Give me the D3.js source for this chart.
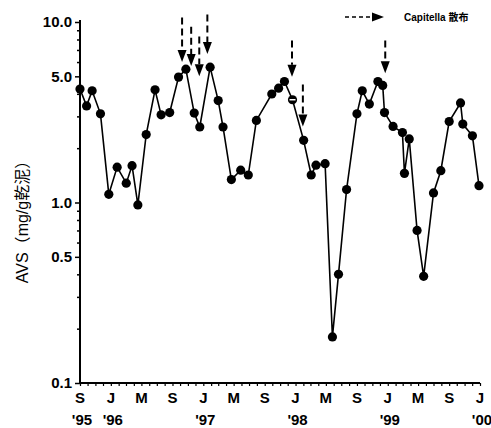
<!DOCTYPE html>
<html>
<head>
<meta charset="utf-8">
<script src="https://cdn.jsdelivr.net/npm/d3@7"></script>
<style>
  body { margin: 0; background: #fff; }
  svg { display: block; }
  text { font-family: "Liberation Sans", Arial, "Noto Sans CJK JP", sans-serif; }
</style>
</head>
<body>
<svg id="chart" width="491" height="428"></svg>
<script>
// sampling dates and AVS values (mg/g dry mud)
var dates = ["1995-09-01","1995-09-27","1995-10-19","1995-11-21","1995-12-24",
  "1996-01-26","1996-03-02","1996-03-25","1996-04-17","1996-05-20","1996-06-24","1996-07-18","1996-08-21","1996-09-25","1996-10-24","1996-11-26","1996-12-18",
  "1997-01-28","1997-03-01","1997-03-20","1997-04-22","1997-05-29","1997-06-28","1997-07-30","1997-09-29","1997-10-26","1997-11-18","1997-12-20",
  "1998-02-02","1998-03-04","1998-03-23","1998-04-28","1998-05-27","1998-06-20","1998-07-22","1998-09-01","1998-09-22","1998-10-20","1998-11-23","1998-12-12","1998-12-19",
  "1999-01-22","1999-02-28","1999-03-08","1999-03-27","1999-04-27","1999-05-23","1999-07-01","1999-07-30","1999-09-01","1999-10-16","1999-10-25","1999-12-02","1999-12-28"];
var avs = [4.25,3.43,4.16,3.10,1.11,
  1.57,1.28,1.60,0.97,2.38,4.21,3.06,3.15,4.95,5.48,3.13,2.62,
  5.62,3.67,2.62,1.34,1.51,1.42,2.85,3.99,4.30,4.68,3.71,
  2.21,1.42,1.61,1.64,0.18,0.40,1.18,3.10,4.16,3.51,4.68,4.45,3.15,
  2.64,2.44,1.45,2.25,0.70,0.39,1.13,1.50,2.81,3.56,2.72,2.34,1.24];
var hollow = [27];

// Capitella spreading events (dashed arrows): date, start value, tip value
var arrowDates = ["1996-10-09","1996-11-14","1996-12-16","1997-01-17","1997-12-18","1998-01-30","1998-12-22"];
var arrowTop = [10.6, 9.4, 8.3, 11.0, 7.9, 4.5, 7.9];
var arrowTip = [6.0, 5.7, 5.0, 6.65, 4.97, 2.64, 5.2];

var yTicks = [10, 5, 1, 0.5, 0.1];
var yTickLabels = ["10.0", "5.0", "1.0", "0.5", "0.1"];
var xTickDates = ["1995-09-01","1996-01-01","1996-05-01","1996-09-01","1997-01-01","1997-05-01","1997-09-01","1998-01-01","1998-05-01","1998-09-01","1999-01-01","1999-05-01","1999-09-01","2000-01-01"];
var xTickLabels = ["S","J","M","S","J","M","S","J","M","S","J","M","S","J"];
var yearDates = ["1995-09-01","1996-01-01","1997-01-01","1998-01-01","1999-01-01","2000-01-01"];
var yearLabels = ["'95","'96","'97","'98","'99","'00"];

var parse = d3.timeParse("%Y-%m-%d");
var svg = d3.select("#chart");

var x = d3.scaleTime()
  .domain([parse("1995-09-01"), parse("2000-01-01")])
  .range([80, 480]);
var y = d3.scaleLog()
  .domain([0.1, 10])
  .range([383, 22]);

var data = dates.map(function (d, i) {
  return { date: parse(d), value: avs[i], hollow: hollow.indexOf(i) >= 0 };
});

// minor y ticks
var minor = [];
[0.1, 1].forEach(function (dec) {
  for (var k = 2; k <= 9; k++) {
    var v = +(dec * k).toFixed(2);
    if (yTicks.indexOf(v) < 0) minor.push(v);
  }
});
svg.append("g")
  .attr("transform", "translate(80,0)")
  .call(d3.axisLeft(y).tickValues(minor).tickSize(3).tickFormat(""))
  .call(function (g) { g.select(".domain").remove(); })
  .selectAll("line").attr("stroke-width", 1.5);

var yAxis = svg.append("g")
  .attr("transform", "translate(80,0)")
  .call(d3.axisLeft(y).tickValues(yTicks).tickSize(5).tickPadding(3)
    .tickFormat(function (d, i) { return yTickLabels[i]; }));
yAxis.select(".domain").attr("stroke-width", 2).attr("d", "M0,383V20");
yAxis.selectAll("line").attr("stroke-width", 1.5);
yAxis.selectAll("text")
  .style("font-size", "15px").style("font-weight", "bold").attr("fill", "#000");

// x axis with monthly ticks
var xAxis = svg.append("g")
  .attr("transform", "translate(0,383)")
  .call(d3.axisBottom(x).ticks(d3.timeMonth.every(1)).tickSize(3).tickFormat(""));
xAxis.select(".domain").attr("stroke-width", 2).attr("d", "M80,0H480");
xAxis.selectAll("line").attr("stroke-width", 1.2);

svg.append("g").selectAll("text")
  .data(xTickDates)
  .enter().append("text")
  .attr("x", function (d) { return x(parse(d)); })
  .attr("y", 403)
  .attr("text-anchor", "middle")
  .style("font-size", "15px").style("font-weight", "bold")
  .text(function (d, i) { return xTickLabels[i]; });

svg.append("g").selectAll("text")
  .data(yearDates)
  .enter().append("text")
  .attr("x", function (d) { return x(parse(d)) + 2; })
  .attr("y", 425)
  .attr("text-anchor", "middle")
  .style("font-size", "15px").style("font-weight", "bold")
  .text(function (d, i) { return yearLabels[i]; });

// y axis title
svg.append("text")
  .attr("transform", "translate(28,218) rotate(-90)")
  .attr("text-anchor", "middle")
  .style("font-size", "16px")
  .style("font-family", "'Liberation Sans', 'Noto Sans CJK JP', sans-serif")
  .text("AVS（mg/g乾泥）");

// line + points
var line = d3.line()
  .x(function (d) { return x(d.date); })
  .y(function (d) { return y(d.value); });
svg.append("path")
  .datum(data)
  .attr("d", line)
  .attr("fill", "none")
  .attr("stroke", "#000")
  .attr("stroke-width", 1.6);

svg.append("g").selectAll("circle")
  .data(data)
  .enter().append("circle")
  .attr("cx", function (d) { return x(d.date); })
  .attr("cy", function (d) { return y(d.value); })
  .attr("r", 4.6)
  .attr("fill", "#000");

svg.append("g").selectAll("line")
  .data(data.filter(function (d) { return d.hollow; }))
  .enter().append("line")
  .attr("x1", function (d) { return x(d.date) - 3; })
  .attr("x2", function (d) { return x(d.date) + 3; })
  .attr("y1", function (d) { return y(d.value); })
  .attr("y2", function (d) { return y(d.value); })
  .attr("stroke", "#fff").attr("stroke-width", 1.5);

// dashed arrows
var triH = 12, triW = 9;
var arrows = svg.append("g").selectAll("g")
  .data(arrowDates)
  .enter().append("g");
arrows.append("line")
  .attr("x1", function (d) { return x(parse(d)); })
  .attr("x2", function (d) { return x(parse(d)); })
  .attr("y1", function (d, i) { return y(arrowTop[i]); })
  .attr("y2", function (d, i) { return y(arrowTip[i]) - triH; })
  .attr("stroke", "#000").attr("stroke-width", 2)
  .attr("stroke-dasharray", "7,4");
arrows.append("path")
  .attr("d", function (d, i) {
    var cx = x(parse(d)), ty = y(arrowTip[i]);
    return "M" + (cx - triW / 2) + "," + (ty - triH) + "L" + (cx + triW / 2) + "," + (ty - triH) + "L" + cx + "," + ty + "Z";
  })
  .attr("fill", "#000");

// legend
var lg = svg.append("g").attr("transform", "translate(345,17)");
lg.append("line")
  .attr("x1", 0).attr("x2", 28).attr("y1", 0).attr("y2", 0)
  .attr("stroke", "#000").attr("stroke-width", 1.5)
  .attr("stroke-dasharray", "4,3");
lg.append("path").attr("d", "M27,-4.5L39,0L27,4.5Z").attr("fill", "#000");
lg.append("text")
  .attr("x", 59).attr("y", 4)
  .style("font-size", "10px").style("font-weight", "bold")
  .text("Capitella 散布");
</script>
</body>
</html>
